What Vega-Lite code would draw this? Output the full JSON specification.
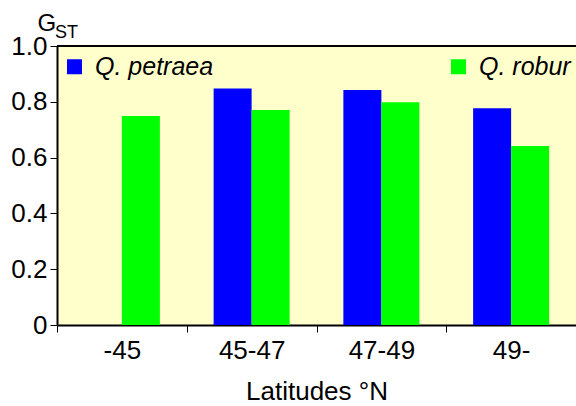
{
  "$schema": "https://vega.github.io/schema/vega-lite/v6.json",
  "width": 519,
  "height": 279,
  "autosize": {"type": "none"},
  "padding": {"left": 57, "top": 46, "right": 0, "bottom": 81},
  "background": "white",
  "config": {"view": {"stroke": null, "fill": "#FFFFCC"}, "font": "Liberation Sans"},
  "title": {"text": "ST", "anchor": "start", "frame": "group", "fontSize": 18, "fontWeight": "normal", "color": "black", "baseline": "alphabetic", "offset": 8, "dx": -2, "dy": 53},
  "data": {
    "values": [
      {"lat": "-45", "species": "Q. robur", "gst": 0.749},
      {"lat": "45-47", "species": "Q. petraea", "gst": 0.848},
      {"lat": "45-47", "species": "Q. robur", "gst": 0.771},
      {"lat": "47-49", "species": "Q. petraea", "gst": 0.842},
      {"lat": "47-49", "species": "Q. robur", "gst": 0.798},
      {"lat": "49-", "species": "Q. petraea", "gst": 0.777},
      {"lat": "49-", "species": "Q. robur", "gst": 0.642}
    ]
  },
  "layer": [
    {
      "mark": {"type": "bar"},
      "encoding": {
        "x": {
          "field": "lat", "type": "nominal", "sort": ["-45", "45-47", "47-49", "49-"],
          "scale": {"paddingInner": 0, "paddingOuter": 0},
          "axis": {
            "title": "Latitudes °N", "titleFontSize": 26, "titleFontWeight": "normal", "titleColor": "black",
            "titleY": 74, "titleBaseline": "alphabetic",
            "labelFontSize": 26, "labelAngle": 0, "labelColor": "black", "labelBaseline": "alphabetic", "labelPadding": 26,
            "tickBand": "extent", "tickSize": 7, "tickColor": "black", "tickWidth": 1,
            "domainColor": "black", "domainWidth": 2, "grid": false
          }
        },
        "xOffset": {
          "field": "species", "type": "nominal",
          "scale": {"domain": ["Q. petraea", "Q. robur"], "paddingInner": 0, "paddingOuter": 0.707}
        },
        "y": {
          "field": "gst", "type": "quantitative",
          "scale": {"domain": [0, 1], "nice": false},
          "axis": {
            "title": "G", "titleAngle": 0, "titleX": -20, "titleY": -16, "titleAlign": "left", "titleBaseline": "alphabetic",
            "titleFontSize": 24, "titleFontWeight": "normal", "titleColor": "black",
            "values": [0, 0.2, 0.4, 0.6, 0.8, 1],
            "labelExpr": "datum.value == 0 ? '0' : format(datum.value, '.1f')",
            "labelFontSize": 26, "labelColor": "black", "labelPadding": 3,
            "tickSize": 7, "tickColor": "black", "tickWidth": 1,
            "domainColor": "black", "domainWidth": 2, "grid": false
          }
        },
        "color": {
          "field": "species", "type": "nominal",
          "scale": {"domain": ["Q. petraea", "Q. robur"], "range": ["#0000FF", "#00FF00"]},
          "legend": {
            "title": null, "orient": "none", "legendX": 5, "legendY": 8, "direction": "horizontal", "columns": 2,
            "columnPadding": 232, "symbolType": "square", "symbolSize": 225, "symbolStrokeWidth": 0,
            "labelFontSize": 25, "labelFontStyle": "italic", "labelOffset": 8, "labelColor": "black",
            "padding": 0, "labelLimit": 0
          }
        }
      }
    },
    {
      "mark": {"type": "rule", "color": "black", "strokeWidth": 2},
      "encoding": {"y": {"datum": 1}}
    }
  ]
}
